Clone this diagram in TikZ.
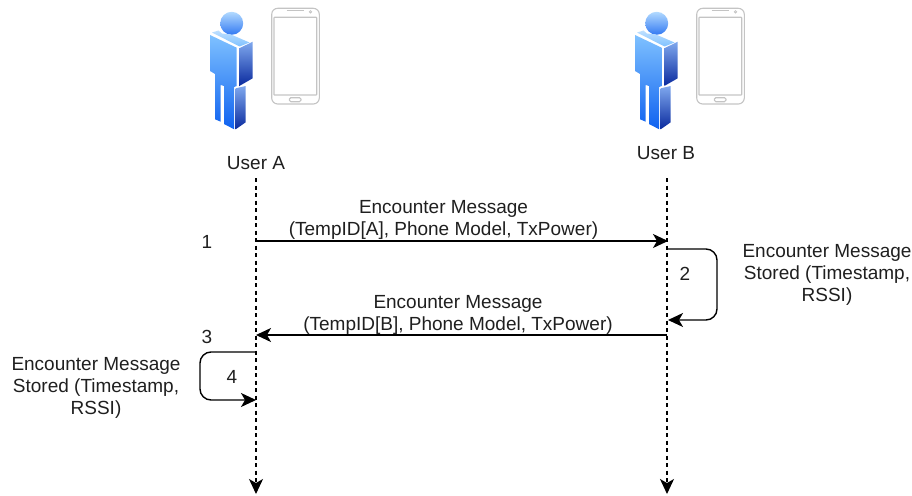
\documentclass[tikz,border=0pt]{standalone}
\usepackage{fontspec}
\setmainfont{Liberation Sans}
\usetikzlibrary{arrows.meta}

\definecolor{bodyTop}{HTML}{7FC1FF}
\definecolor{bodyBot}{HTML}{0F62F0}
\definecolor{sideTop}{HTML}{7FA8EE}
\definecolor{sideBot}{HTML}{0A2A9E}
\definecolor{phoneGray}{HTML}{C4C4C4}

\tikzset{
    txt/.style={font=\fontsize{19}{22}\selectfont, align=center, inner sep=0pt, text=black!88},
    life/.style={line width=1.2pt, dash pattern=on 4pt off 3.5pt, -{Stealth[length=15pt,width=14pt,inset=4pt]}},
    msg/.style={line width=1.4pt, -{Stealth[length=15pt,width=14pt,inset=4pt]}},
    self/.style={msg, rounded corners=11pt},
    phone/.style={draw=phoneGray, line width=1.1pt},
}

% человечек с телефоном, #1 = сдвиг по x
\newcommand{\usericon}[1]{
    \begin{scope}[xshift=#1]
        % голова
        \shade[top color=bodyTop!60!white, bottom color=bodyBot!85!white] (231.7,23.3) circle (11.5);
        % плечи
        \shade[top color=bodyTop!50!white, bottom color=bodyTop]
            (212,32.5) -- (218.5,30.5) -- (222,33.5) -- (231,34.5) -- (249.5,42.5) -- (239.5,46.5) -- cycle;
        % туловище и ноги
        \shade[top color=bodyTop, bottom color=bodyBot]
            (210,35) -- (236.7,47.7) -- (236.7,86) -- (234.2,87) -- (234.2,129.3) -- (224,124) -- (224,86)
            -- (220.7,85) -- (220.7,121.7) -- (215,119.3) -- (215,74) -- (210,71) -- cycle;
        % бок
        \shade[top color=sideTop, bottom color=sideBot]
            (239.3,48.3) -- (252.7,41.7) -- (252.7,78.3) -- (239.3,86) -- cycle;
        \shade[top color=sideTop, bottom color=sideBot]
            (235.7,88.3) -- (245.7,86) -- (245.7,122.3) -- (235.7,129.3) -- cycle;
        % телефон
        \draw[phone, rounded corners=6pt] (271.7,8.3) rectangle (319.3,104);
        \draw[phone, rounded corners=0.5pt] (274,17.3) rectangle (316.7,95);
        \draw[phone, rounded corners=1.5pt] (289.3,97.7) rectangle (301,101.7);
        \draw[phone, line width=1pt] (286.5,11) -- (304,11);
        \draw[phone, line width=0.8pt] (310.5,11.8) circle (1.2);
    \end{scope}
}

\begin{document}
\begin{tikzpicture}[x=1pt, y=-1pt]
    \useasboundingbox (0,0) rectangle (912,495);

    % --- ПОЛЬЗОВАТЕЛИ ---
    \usericon{0pt}
    \usericon{425pt}

    \node[txt] (userA) at (256,163) {User A};
    \node[txt] (userB) at (666,153) {User B};

    % --- ЛИНИИ ЖИЗНИ ---
    \coordinate (topA) at (256,178);
    \coordinate (endA) at (256,494);
    \coordinate (topB) at (667,178);
    \coordinate (endB) at (667,494);
    \draw[life] (topA) -- (endA);
    \draw[life] (topB) -- (endB);

    % --- СООБЩЕНИЯ ---
    \coordinate (m1A) at (256,241);
    \coordinate (m1B) at (668,241);
    \draw[msg] (m1A) -- (m1B);
    \node[txt] (m1Label) at (443.5,220) {Encounter Message\\(TempID[A], Phone Model, TxPower)};

    \coordinate (m2B) at (667,335);
    \coordinate (m2A) at (256,335);
    \draw[msg] (m2B) -- (m2A);
    \node[txt] (m2Label) at (458,315) {Encounter Message\\(TempID[B], Phone Model, TxPower)};

    % --- ЗАПИСЬ У B ---
    \coordinate (s1) at (668,249);
    \coordinate (s1Out) at (717,249);
    \coordinate (s1Back) at (717,320);
    \coordinate (s1End) at (668,320);
    \draw[self] (s1) -- (s1Out) -- (s1Back) -- (s1End);
    \node[txt] (s1Label) at (827,275) {Encounter Message\\Stored (Timestamp,\\RSSI)};

    % --- ЗАПИСЬ У A ---
    \coordinate (s2) at (256,352);
    \coordinate (s2Out) at (200,352);
    \coordinate (s2Back) at (200,400);
    \coordinate (s2End) at (256,400);
    \draw[self] (s2) -- (s2Out) -- (s2Back) -- (s2End);
    \node[txt] (s2Label) at (96,387.5) {Encounter Message\\Stored (Timestamp,\\RSSI)};

    % номера шагов
    \node[txt] (n1) at (207,242) {1};
    \node[txt] (n2) at (685,274) {2};
    \node[txt] (n3) at (207,337) {3};
    \node[txt] (n4) at (232,377) {4};
\end{tikzpicture}
\end{document}
